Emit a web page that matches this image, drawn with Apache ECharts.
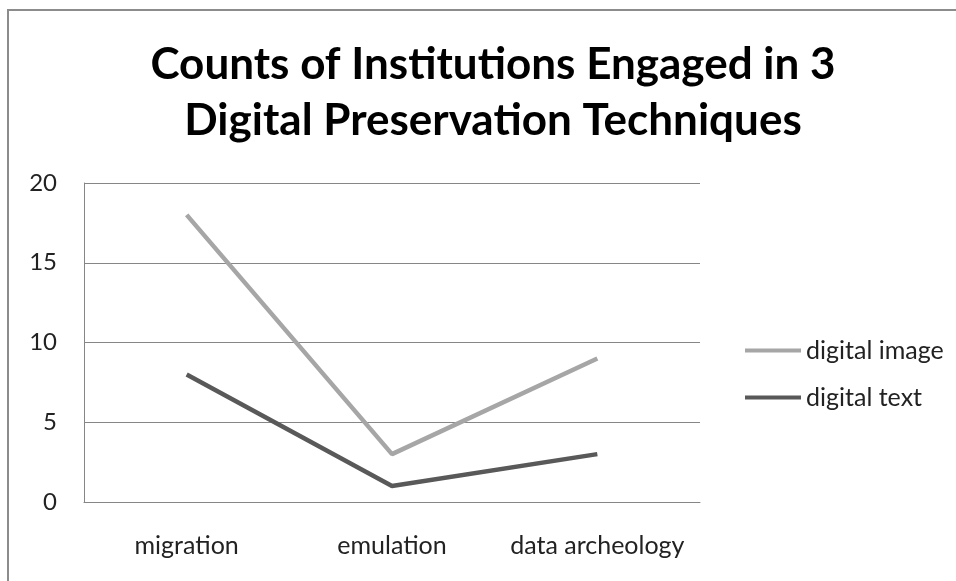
<!DOCTYPE html>
<html>
<head>
<meta charset="utf-8">
<script src="https://cdn.jsdelivr.net/npm/echarts@6/dist/echarts.min.js"></script>
<style>
	html, body { margin: 0; padding: 0; background: #fff; }
	#chart { width: 956px; height: 581px; }
</style>
</head>
<body>
<div id="chart"></div>
<script>
// categories and series values
var categories = ['migration', 'emulation', 'data archeology'];
var digitalImage = [18, 3, 9];
var digitalText = [8, 1, 3];
var yTicks = [0, 5, 10, 15, 20];

var fontFam = 'Lato, "Open Sans", sans-serif';
var chart = echarts.init(document.getElementById('chart'));

var option = {
	backgroundColor: '#fff',
	animation: false,
	title: {
		text: 'Counts of Institutions Engaged in 3\nDigital Preservation Techniques',
		left: 488,
		top: 32,
		textAlign: 'center',
		textStyle: {
			fontFamily: fontFam,
			fontWeight: 'bold',
			fontSize: 44,
			lineHeight: 56,
			color: '#000'
		}
	},
	graphic: [{
		// outer chart frame
		type: 'rect',
		shape: { x: 8, y: 10, width: 1000, height: 700 },
		style: { fill: 'none', stroke: '#8c8c8c', lineWidth: 2 },
		silent: true
	}],
	legend: {
		orient: 'vertical',
		left: 740,
		top: 333,
		itemWidth: 56,
		itemHeight: 4,
		itemGap: 22,
		icon: 'rect',
		textStyle: { fontFamily: fontFam, fontSize: 25, color: '#222' },
		data: ['digital image', 'digital text']
	},
	grid: {
		left: 84,
		right: 256,
		top: 183,
		bottom: 79,
		containLabel: false
	},
	xAxis: {
		type: 'category',
		data: categories,
		boundaryGap: true,
		axisLine: { lineStyle: { color: '#868686', width: 1 } },
		axisTick: { show: false },
		axisLabel: { interval: 0, hideOverlap: false, fontFamily: fontFam, fontSize: 25, color: '#222', margin: 31 }
	},
	yAxis: {
		type: 'value',
		min: yTicks[0],
		max: yTicks[yTicks.length - 1],
		interval: 5,
		axisLine: { show: true, lineStyle: { color: '#868686', width: 1 } },
		axisTick: { show: false },
		axisLabel: { fontFamily: fontFam, fontSize: 24, color: '#222', margin: 27 },
		splitLine: { lineStyle: { color: '#868686', width: 1 } }
	},
	series: [
		{
			name: 'digital image',
			type: 'line',
			data: digitalImage,
			symbol: 'none',
			lineStyle: { color: '#a6a6a6', width: 4.5 },
			itemStyle: { color: '#a6a6a6' }
		},
		{
			name: 'digital text',
			type: 'line',
			data: digitalText,
			symbol: 'none',
			lineStyle: { color: '#595959', width: 4.5 },
			itemStyle: { color: '#595959' }
		}
	]
};

chart.setOption(option);
</script>
</body>
</html>
